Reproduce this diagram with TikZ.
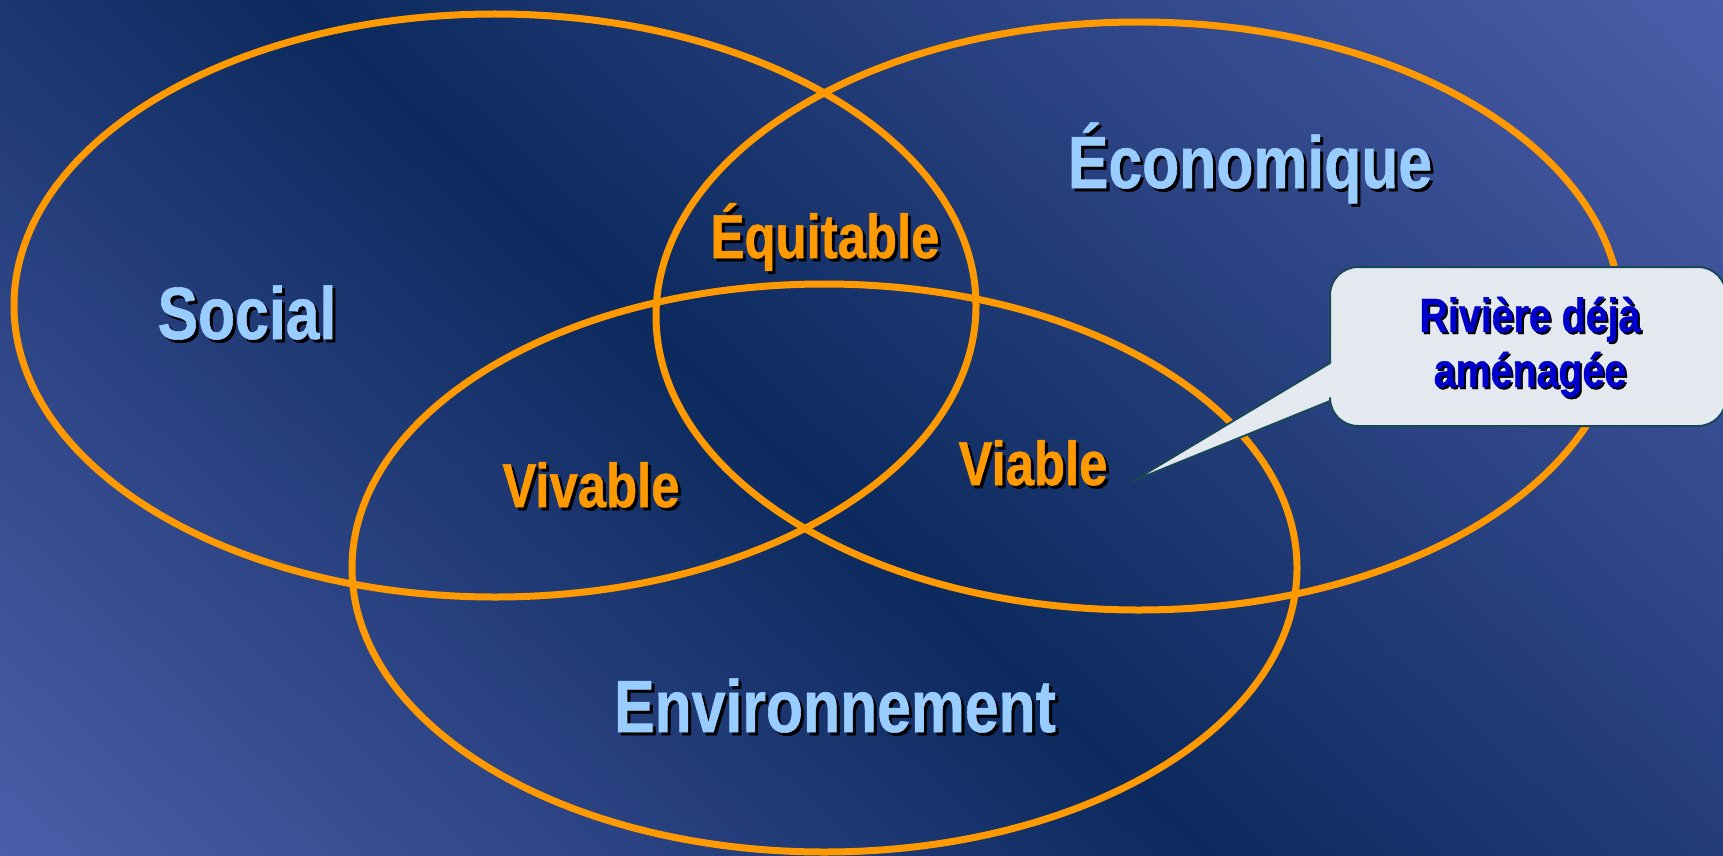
\documentclass[tikz,border=0pt]{standalone}
\usepackage{fontspec}
\setmainfont{Liberation Sans}[FakeStretch=0.82, BoldFeatures={FakeBold=0.8}]

\definecolor{bgdark}{RGB}{12,42,94}
\definecolor{bglight}{RGB}{76,94,170}
\definecolor{ringorange}{RGB}{255,153,0}
\definecolor{wordblue}{RGB}{153,204,255}
\definecolor{noteblue}{RGB}{0,0,204}
\definecolor{notefill}{RGB}{228,233,240}
\definecolor{noteedge}{RGB}{24,72,88}

% light - dark - light band, used rotated as the page background
\pgfdeclarehorizontalshading{bgband}{2200bp}{%
  color(0bp)=(bglight); color(150bp)=(bglight); color(974bp)=(bgdark);
  color(1946bp)=(bglight); color(2100bp)=(bglight)}

% text with a black drop shadow offset down and to the right
\newcommand\shadowtxt[2]{\rlap{\kern#1\raisebox{-#1}{\color{black}#2}}#2}

\begin{document}
\begin{tikzpicture}[
  x=1pt, y=-1pt,
  ring/.style={draw=ringorange, line width=7pt},
  word/.style={inner sep=0pt, outer sep=0pt, anchor=base},
  blueword/.style={word, text=wordblue, font=\fontsize{74}{80}\selectfont\bfseries},
  orangeword/.style={word, text=ringorange, font=\fontsize{62}{66}\selectfont\bfseries},
  noteword/.style={word, text=noteblue, font=\fontsize{48}{55}\selectfont\bfseries},
  notebox/.style={fill=notefill, draw=noteedge, line width=2pt, line join=round}
]
\useasboundingbox (0,0) rectangle (1723,856);

% diagonal background gradient, dark band running from upper left to lower right
\begin{scope}
  \clip (0,0) rectangle (1723,856);
  \node[inner sep=0pt, outer sep=0pt, rotate=47] (backdrop) at (805,373) {\pgfuseshading{bgband}};
\end{scope}

% the three overlapping rings
\draw[ring] (495,305.5) ellipse [x radius=481, y radius=291.5];
\draw[ring] (1138.5,316) ellipse [x radius=482.5, y radius=294];
\draw[ring] (824.5,568) ellipse [x radius=472.5, y radius=284];

% ring titles
\node[blueword] (social) at (247,339) {\shadowtxt{3pt}{Social}};
\node[blueword] (eco) at (1250,188) {\shadowtxt{3pt}{Économique}};
\node[blueword] (env) at (835,732) {\shadowtxt{3pt}{Environnement}};

% overlap labels
\node[orangeword] (equit) at (825,258) {\shadowtxt{3pt}{Équitable}};
\node[orangeword] (vivable) at (591,507) {\shadowtxt{3pt}{Vivable}};
\node[orangeword] (viable) at (1033,485) {\shadowtxt{3pt}{Viable}};

% callout pointing into the viable zone
\coordinate (tip) at (1133,481);
\path[notebox] (1330,363) -- (1330,295) arc[start angle=180, end angle=270, radius=28]
  -- (1698,267) arc[start angle=270, end angle=360, radius=28]
  -- (1726,398) arc[start angle=0, end angle=90, radius=28]
  -- (1358,426) arc[start angle=90, end angle=180, radius=28]
  -- (1330,401) -- (tip) -- cycle;
\node[noteword] (note1) at (1530,332) {\shadowtxt{2pt}{Rivière déjà}};
\node[noteword] (note2) at (1530,387) {\shadowtxt{2pt}{aménagée}};
\end{tikzpicture}
\end{document}
